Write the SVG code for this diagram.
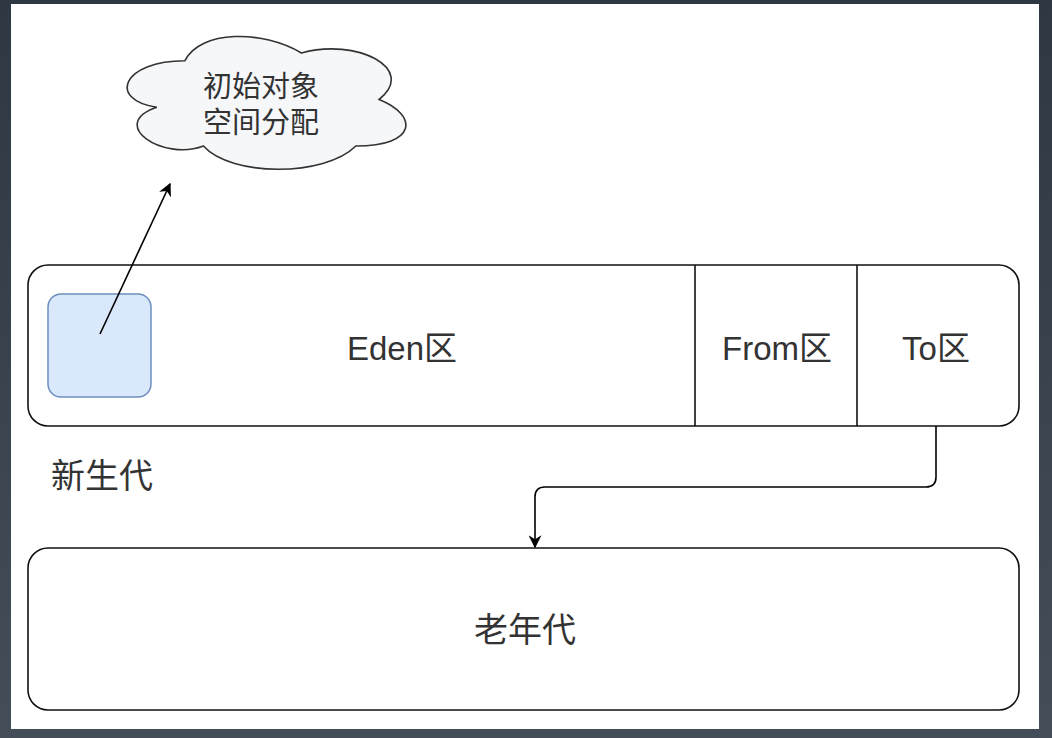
<svg xmlns="http://www.w3.org/2000/svg" width="1052" height="738" viewBox="0 0 1052 738">
  <defs>
    <linearGradient id="frame" x1="0" y1="0" x2="0" y2="1">
      <stop offset="0" stop-color="#2e3843"/>
      <stop offset="1" stop-color="#434e59"/>
    </linearGradient>
    <marker id="arrow" viewBox="0 0 10 10" refX="9" refY="5" markerWidth="13" markerHeight="13" markerUnits="userSpaceOnUse" orient="auto">
      <path d="M0,0 L10,5 L0,10 L3,5 Z" fill="#000"/>
    </marker>
    <style>
      .box { fill: #ffffff; stroke: #111; stroke-width: 1.6; }
      .div { stroke: #111; stroke-width: 1.6; }
      .lbl { font-family: "Liberation Sans", "Noto Sans CJK SC", sans-serif; fill: #333; }
      .cjk { font-family: "Noto Sans CJK SC", "Liberation Sans", sans-serif; fill: #333; }
      .edge { fill: none; stroke: #000; stroke-width: 1.6; }
    </style>
  </defs>
  <rect x="0" y="0" width="1052" height="738" fill="url(#frame)"/>
  <rect x="11" y="4" width="1028" height="725" fill="#ffffff"/>

  <g id="cloud">
    <path d="M 184.8 60.8 C 122.6 60.8 107 99.5 156.8 107.3 C 107 124.3 163 161.5 203.4 146 C 231.4 177 324.7 177 355.8 146 C 418 146 418 115 379.1 99.5 C 418 68.5 355.8 37.5 301.4 53 C 262.5 29.8 200.3 29.8 184.8 60.8 Z" fill="#f6f7f9" stroke="#333" stroke-width="1.6"/>
    <text class="cjk" x="261" y="97" font-size="29" text-anchor="middle">初始对象</text>
    <text class="cjk" x="261" y="133" font-size="29" text-anchor="middle">空间分配</text>
  </g>

  <g id="young-gen">
    <rect class="box" x="28" y="265" width="991" height="161" rx="20" ry="20"/>
    <line class="div" x1="695" y1="265" x2="695" y2="426"/>
    <line class="div" x1="857" y1="265" x2="857" y2="426"/>
  </g>
  <g id="eden">
    <text class="lbl" x="402" y="360" font-size="33" text-anchor="middle">Eden区</text>
  </g>
  <g id="from">
    <text class="lbl" x="777" y="360" font-size="33" text-anchor="middle">From区</text>
  </g>
  <g id="to">
    <text class="lbl" x="936" y="360" font-size="33" text-anchor="middle">To区</text>
  </g>
  <g id="object">
    <rect x="48" y="294" width="103" height="103" rx="13" ry="13" fill="#dae8fc" stroke="#6c8ebf" stroke-width="1.5"/>
  </g>
  <g id="young-label">
    <text class="cjk" x="51" y="488" font-size="34">新生代</text>
  </g>
  <g id="old-gen">
    <rect class="box" x="28" y="548" width="991" height="162" rx="20" ry="20"/>
    <text class="cjk" x="525" y="642" font-size="34" text-anchor="middle">老年代</text>
  </g>

  <g id="connectors">
    <line class="edge" x1="100" y1="334" x2="170" y2="184" marker-end="url(#arrow)"/>
    <path class="edge" d="M 936 426 V 477 Q 936 487 926 487 H 545 Q 535 487 535 497 V 547" marker-end="url(#arrow)"/>
  </g>
</svg>
